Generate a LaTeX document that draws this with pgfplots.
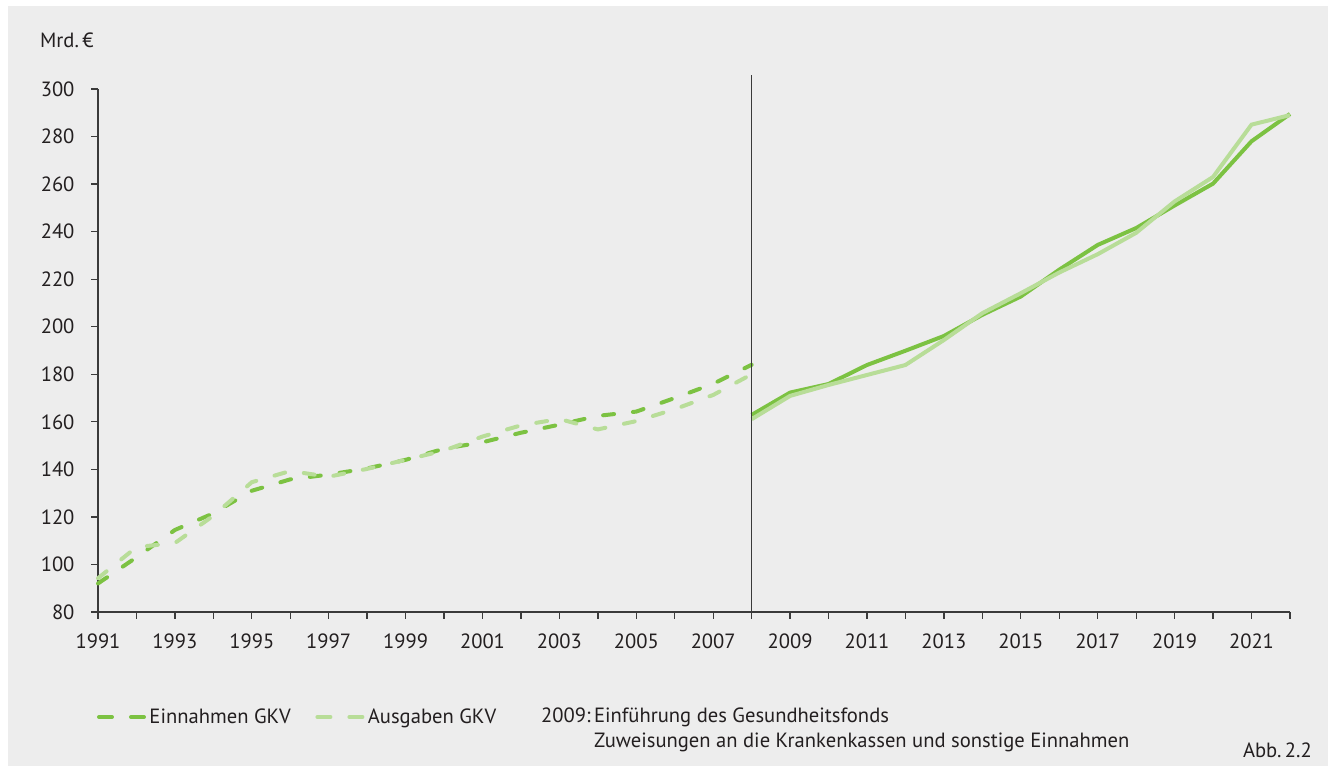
\documentclass[border=0pt]{standalone}
\usepackage{fontspec}
\setmainfont{PT Sans}
\usepackage{pgfplots}
\pgfplotsset{compat=1.18}
\definecolor{dgreen}{HTML}{7CC242}
\definecolor{lgreen}{HTML}{B8DD98}
\definecolor{bg}{HTML}{EDEDED}
\definecolor{txt}{HTML}{231F20}
\definecolor{axc}{HTML}{3A3A3A}
\newcommand\ff{\fontsize{20.6}{25}\selectfont}

\pgfplotstableread{
year val
1991 92
1992 103
1993 114.5
1994 121.5
1995 131
1996 135.8
1997 137.8
1998 140.4
1999 144
2000 148.7
2001 151.4
2002 155.4
2003 158.8
2004 162.5
2005 164.3
2006 170
2007 176
2008 184
}\einA
\pgfplotstableread{
year val
1991 94.2
1992 107.3
1993 109
1994 120.5
1995 134.6
1996 139.3
1997 136.9
1998 140.2
1999 144
2000 147.9
2001 153.8
2002 158.5
2003 161.2
2004 156.8
2005 160.3
2006 165.3
2007 171.3
2008 180
}\ausA
\pgfplotstableread{
year val
2008 162.9
2009 172.3
2010 175.9
2011 183.9
2012 189.9
2013 196.1
2014 205
2015 212.7
2016 224
2017 234.4
2018 241.5
2019 251
2020 260.2
2021 278
2022 289.5
}\einB
\pgfplotstableread{
year val
2008 161.1
2009 170.9
2010 175.5
2011 179.7
2012 183.9
2013 194.4
2014 205.7
2015 214.1
2016 222.8
2017 230.5
2018 239.5
2019 252.7
2020 263
2021 285
2022 289
}\ausB

\begin{document}
\begin{tikzpicture}[x=1pt,y=1pt]
\fill[white] (0pt,0pt) rectangle (1328pt,767pt);
\fill[bg] (8pt,1pt) rectangle (1328pt,761pt);
\begin{axis}[
  at={(98pt,155pt)}, anchor=south west,
  scale only axis, width=1192pt, height=523pt,
  xmin=1991, xmax=2022, ymin=80, ymax=300,
  axis lines*=left,
  axis line style={axc, line width=1.5pt},
  clip=false,
  xtick={1991,1993,...,2021},
  minor xtick={1992,1994,...,2022},
  ytick={80,100,...,300},
  tick align=outside,
  major tick length=7pt, minor tick length=7pt,
  every tick/.style={axc, line width=1.3pt},
  every minor tick/.style={axc, line width=1.3pt},
  tick label style={font=\ff, text=txt},
  xticklabel style={yshift=-11pt},
  yticklabel style={xshift=-13pt},
  /pgf/number format/assume math mode=true,
  /pgf/number format/set thousands separator={},
  legend style={at={(-0.001,-0.2008)}, anchor=west, draw=none, fill=none,
    inner sep=0pt, font=\ff, text=txt, legend columns=2,
    /tikz/every even column/.append style={column sep=22pt},
    nodes={inner sep=2.5pt}},
  legend image code/.code={\draw[#1, dash pattern=on 13pt off 19pt] (2pt,0pt) -- (48pt,0pt);},
]
\addplot[dgreen, line width=4pt, line cap=round, dash pattern=on 11pt off 19pt] table[x=year,y=val] {\einA};
\addlegendentry{Einnahmen GKV}
\addplot[lgreen, line width=4pt, line cap=round, dash pattern=on 11pt off 19pt] table[x=year,y=val] {\ausA};
\addlegendentry{Ausgaben GKV}
\addplot[dgreen, line width=4pt, forget plot] table[x=year,y=val] {\einB};
\addplot[lgreen, line width=4pt, forget plot] table[x=year,y=val] {\ausB};
\draw[axc, line width=1.4pt] (axis cs:2008,80) -- (axis cs:2008,306);
\end{axis}
\node[anchor=west, inner sep=0pt, font=\ff, text=txt] at (40pt,727pt) {Mrd.\,€};
\node[anchor=north west, inner sep=0pt, font=\ff, text=txt] at (541pt,62pt) {\begin{tabular}{@{}l@{\,}l@{}}2009: & Einführung des Gesundheitsfonds\\[0pt] & Zuweisungen an die Krankenkassen und sonstige Einnahmen\end{tabular}};
\node[anchor=east, inner sep=0pt, font=\ff, text=txt] at (1312pt,17pt) {Abb.\,2.2};
\pgfresetboundingbox
\useasboundingbox (0pt,0pt) rectangle (1328pt,767pt);
\end{tikzpicture}
\end{document}
